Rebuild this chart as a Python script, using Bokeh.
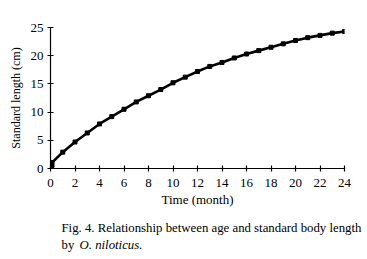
from bokeh.plotting import figure
from bokeh.models import Range1d, FixedTicker
from bokeh.layouts import column
from bokeh.core.properties import value
from bokeh.embed import file_html
from bokeh.resources import INLINE

months = [0, 1, 2, 3, 4, 5, 6, 7, 8, 9, 10, 11, 12, 13, 14, 15, 16, 17, 18, 19, 20, 21, 22, 23, 24]
length_cm = [0.8, 2.9, 4.7, 6.3, 7.9, 9.2, 10.5, 11.8, 12.9, 14.0, 15.2, 16.2, 17.2, 18.1,
             18.8, 19.6, 20.3, 20.9, 21.5, 22.1, 22.7, 23.2, 23.6, 24.0, 24.3]
x_ticks = [0, 2, 4, 6, 8, 10, 12, 14, 16, 18, 20, 22, 24]
y_ticks = [0, 5, 10, 15, 20, 25]
x_title = "Time (month)"
y_title = "Standard length (cm)"
caption1 = "Fig. 4. Relationship between age and standard body length"
caption2a = "by"
caption2b = "O. niloticus."

FONT = "'Liberation Serif', 'Times New Roman', serif"

p = figure(width=367, height=210, output_backend="svg", toolbar_location=None,
           x_range=Range1d(0, 24), y_range=Range1d(0, 25),
           min_border_left=50, min_border_right=23, min_border_top=27, min_border_bottom=42,
           frame_width=294, frame_height=141)
p.outline_line_color = None
p.xgrid.grid_line_color = None
p.ygrid.grid_line_color = None
p.background_fill_color = "white"
p.border_fill_color = "white"

for ax in (p.xaxis[0], p.yaxis[0]):
    ax.axis_line_color = "black"
    ax.axis_line_width = 1.2
    ax.major_tick_line_color = "black"
    ax.major_tick_line_width = 1.2
    ax.major_tick_in = 3
    ax.major_tick_out = 3
    ax.minor_tick_line_color = None
    ax.major_label_text_font = FONT
    ax.major_label_text_font_size = "13px"
    ax.major_label_text_color = "black"
    ax.axis_label_text_font = FONT
    ax.axis_label_text_font_style = "normal"
    ax.axis_label_text_font_size = "13px"
    ax.axis_label_text_color = "black"

p.xaxis.ticker = FixedTicker(ticks=x_ticks)
p.yaxis.ticker = FixedTicker(ticks=y_ticks)
p.xaxis.axis_label = x_title
p.yaxis.axis_label = y_title
p.yaxis.axis_label_text_font_size = "12px"
p.xaxis.major_label_standoff = 7
p.yaxis.major_label_standoff = 4
p.xaxis.axis_label_standoff = 2
p.yaxis.axis_label_standoff = 5

p.line(months, length_cm, line_color="black", line_width=2.6)
p.scatter(months[1:], length_cm[1:], marker="square", size=4, color="black")
p.scatter(months[:1], length_cm[:1], marker="square", size=7, color="black")

# caption panel: data coordinates equal page pixels (x right, y down)
cap = figure(width=367, height=49, output_backend="svg", toolbar_location=None,
             x_range=Range1d(0, 367), y_range=Range1d(259, 210),
             x_axis_location=None, y_axis_location=None,
             min_border=0, min_border_left=0, min_border_right=0,
             min_border_top=0, min_border_bottom=0,
             frame_width=367, frame_height=49)
cap.outline_line_color = None
cap.xgrid.grid_line_color = None
cap.ygrid.grid_line_color = None
cap.background_fill_color = "white"
cap.border_fill_color = "white"

CAP_SIZE = "12.8px"
cap.text(x=[11], y=[227], text=[caption1], text_font=value(FONT), text_font_size=CAP_SIZE,
         text_color="black", text_baseline="alphabetic", text_align="left")
cap.text(x=[11], y=[244], text=[caption2a], text_font=value(FONT), text_font_size=CAP_SIZE,
         text_color="black", text_baseline="alphabetic", text_align="left")
cap.text(x=[29], y=[244], text=[caption2b], text_font=value(FONT), text_font_size=CAP_SIZE,
         text_font_style="italic", text_color="black", text_baseline="alphabetic",
         text_align="left")

layout = column(p, cap, spacing=0)
open("out.html", "w").write(file_html(layout, INLINE))
